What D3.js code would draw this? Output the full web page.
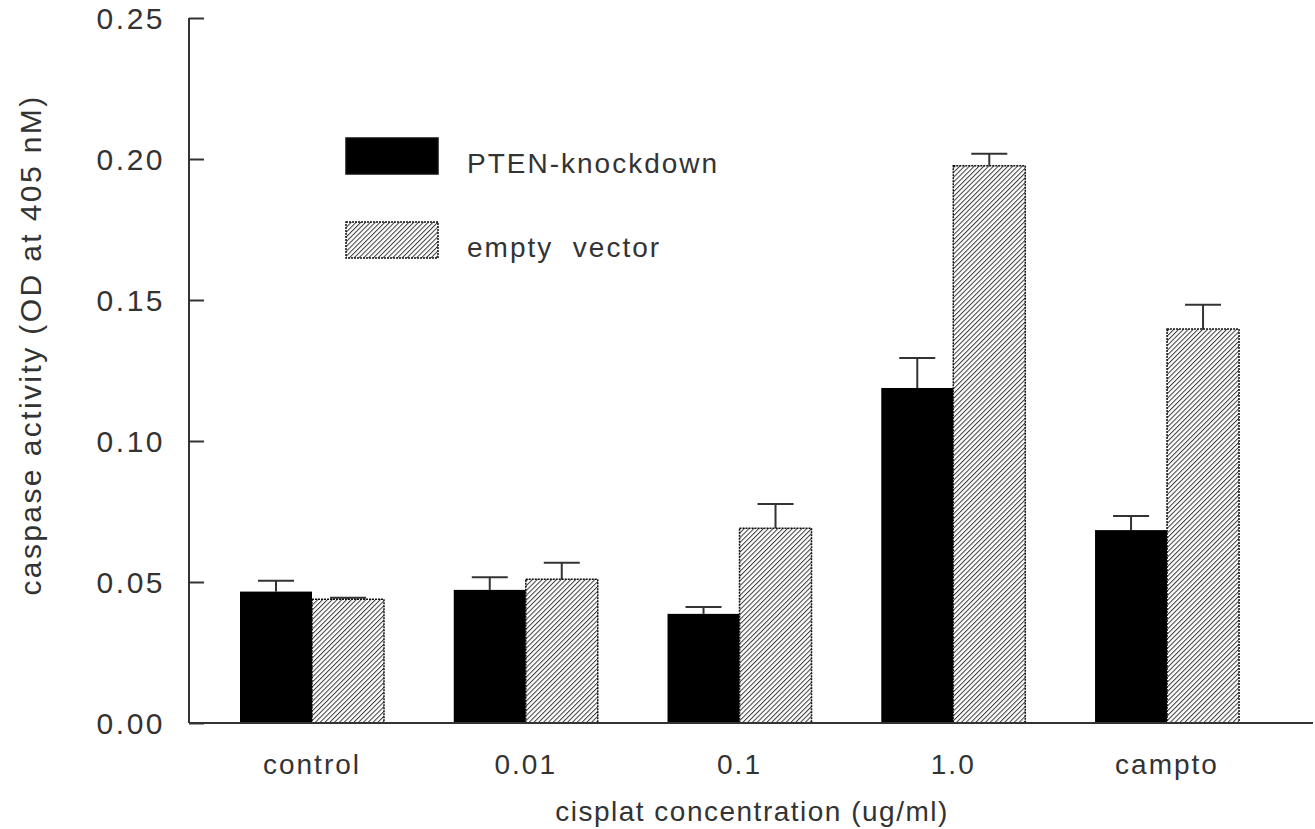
<!DOCTYPE html>
<html>
<head>
<meta charset="utf-8">
<script src="https://cdn.jsdelivr.net/npm/d3@7"></script>
<style>
  body { margin: 0; background: #fff; }
  svg text { font-family: "Liberation Sans", Arial, sans-serif; fill: #333; }
</style>
</head>
<body>
<svg width="1315" height="829"></svg>
<script>
// data
var categories = ['control', '0.01', '0.1', '1.0', 'campto'];
var seriesNames = ['PTEN-knockdown', 'empty  vector'];
var ptenValues = [0.0466, 0.0472, 0.0387, 0.1188, 0.0684];
var ptenErrors = [0.0038, 0.0045, 0.0024, 0.0106, 0.0050];
var emptyValues = [0.0439, 0.0510, 0.0691, 0.1976, 0.1397];
var emptyErrors = [0.0005, 0.0058, 0.0086, 0.0043, 0.0086];
var yTicks = [0, 0.05, 0.10, 0.15, 0.20, 0.25];

var svg = d3.select('svg');
var axisColor = '#333';

// hatch pattern for the empty vector bars
var defs = svg.append('defs');
var pat = defs.append('pattern')
    .attr('id', 'hatch')
    .attr('patternUnits', 'userSpaceOnUse')
    .attr('width', 3.4).attr('height', 3.4)
    .attr('patternTransform', 'rotate(45)');
pat.append('rect').attr('width', 3.4).attr('height', 3.4).attr('fill', '#fff');
pat.append('line')
    .attr('x1', 0).attr('y1', 0).attr('x2', 0).attr('y2', 3.4)
    .attr('stroke', '#3a3a3a').attr('stroke-width', 2);

var y = d3.scaleLinear().domain([0, 0.25]).range([723, 18]);
var x0 = d3.scaleBand().domain(categories).range([205.1, 1273.9]).padding(0);
var x1 = d3.scaleBand().domain(seriesNames).range([34.9, 178.9]).padding(0);

var rows = categories.map(function(c, i) {
    return {
        cat: c,
        bars: [
            {s: seriesNames[0], v: ptenValues[i], e: ptenErrors[i]},
            {s: seriesNames[1], v: emptyValues[i], e: emptyErrors[i]}
        ]
    };
});
var fillFor = function(s) { return s === seriesNames[0] ? '#000' : 'url(#hatch)'; };

var groups = svg.selectAll('g.grp')
    .data(rows)
    .enter().append('g')
    .attr('class', 'grp')
    .attr('transform', d => 'translate(' + x0(d.cat) + ',0)');

// error bars (upper only), drawn before the bars
groups.selectAll('line.err')
    .data(d => d.bars)
    .enter().append('line')
    .attr('x1', d => x1(d.s) + x1.bandwidth() / 2)
    .attr('x2', d => x1(d.s) + x1.bandwidth() / 2)
    .attr('y1', d => y(d.v))
    .attr('y2', d => y(d.v + d.e))
    .attr('stroke', axisColor).attr('stroke-width', 2);
groups.selectAll('line.cap')
    .data(d => d.bars)
    .enter().append('line')
    .attr('x1', d => x1(d.s) + x1.bandwidth() / 2 - 18)
    .attr('x2', d => x1(d.s) + x1.bandwidth() / 2 + 18)
    .attr('y1', d => y(d.v + d.e))
    .attr('y2', d => y(d.v + d.e))
    .attr('stroke', axisColor).attr('stroke-width', 2);

groups.selectAll('rect')
    .data(d => d.bars)
    .enter().append('rect')
    .attr('x', d => x1(d.s))
    .attr('y', d => y(d.v))
    .attr('width', x1.bandwidth())
    .attr('height', d => y(0) - y(d.v))
    .attr('fill', d => fillFor(d.s))
    .attr('stroke', '#111')
    .attr('stroke-width', d => d.s === seriesNames[0] ? 0 : 1.5)
    .attr('stroke-dasharray', '2,1');

// y axis, ticks pointing inward
var yAxis = svg.append('g')
    .attr('transform', 'translate(189,0)')
    .call(d3.axisRight(y).tickValues(yTicks).tickSize(15).tickFormat(d3.format('.2f')));
yAxis.select('.domain').remove();
yAxis.selectAll('.tick line').attr('stroke', axisColor).attr('stroke-width', 2);
yAxis.selectAll('.tick text').remove();
svg.append('line')
    .attr('x1', 189).attr('x2', 189).attr('y1', y(0.25)).attr('y2', y(0))
    .attr('stroke', axisColor).attr('stroke-width', 2);
svg.selectAll('text.ytick')
    .data(yTicks)
    .enter().append('text')
    .attr('class', 'ytick')
    .attr('x', 165)
    .attr('y', d => y(d))
    .attr('dy', '0.36em')
    .attr('text-anchor', 'end')
    .attr('font-size', 30)
    .attr('letter-spacing', 2.5)
    .text(d3.format('.2f'));

// x axis line
svg.append('line')
    .attr('x1', 189).attr('x2', 1313).attr('y1', y(0)).attr('y2', y(0))
    .attr('stroke', axisColor).attr('stroke-width', 2);
svg.selectAll('text.xcat')
    .data(categories)
    .enter().append('text')
    .attr('class', 'xcat')
    .attr('x', d => x0(d) + x0.bandwidth() / 2)
    .attr('y', 774)
    .attr('text-anchor', 'middle')
    .attr('font-size', 28)
    .attr('letter-spacing', 2)
    .text(d => d);

// axis titles
svg.append('text')
    .attr('x', 752).attr('y', 821)
    .attr('text-anchor', 'middle')
    .attr('font-size', 28)
    .attr('letter-spacing', 1.5)
    .text('cisplat concentration (ug/ml)');
svg.append('text')
    .attr('transform', 'translate(41,345) rotate(-90)')
    .attr('text-anchor', 'middle')
    .attr('font-size', 30)
    .attr('letter-spacing', 2.4)
    .text('caspase activity (OD at 405 nM)');

// legend
var legend = svg.selectAll('g.legend')
    .data(seriesNames)
    .enter().append('g')
    .attr('class', 'legend')
    .attr('transform', (d, i) => 'translate(346,' + (138 + i * 84) + ')');
legend.append('rect')
    .attr('width', 92).attr('height', 36)
    .attr('fill', d => fillFor(d))
    .attr('stroke', '#111').attr('stroke-width', 1.5)
    .attr('stroke-dasharray', d => d === seriesNames[0] ? null : '2,1');
legend.append('text')
    .attr('x', 121).attr('y', 35)
    .attr('font-size', 28)
    .attr('letter-spacing', 2)
    .attr('xml:space', 'preserve')
    .text(d => d);
</script>
</body>
</html>
